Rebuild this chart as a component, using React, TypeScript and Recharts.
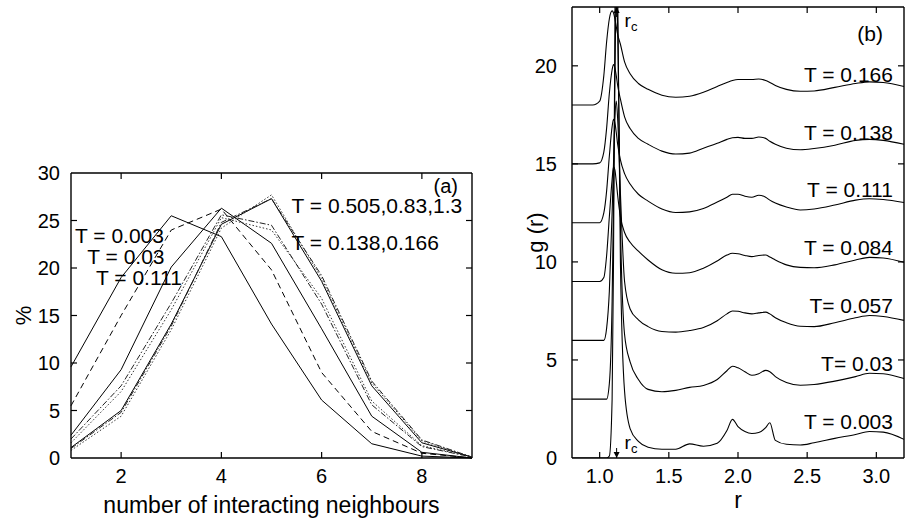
import React from 'react';
import { LineChart, Line, XAxis, YAxis, ReferenceDot, ReferenceLine, Label } from 'recharts';

const FONT = '"Liberation Sans", Arial, Helvetica, sans-serif';

// (a) share of particles (%) vs number of interacting neighbours
const NEIGHBOURS = [1, 2, 3, 4, 5, 6, 7, 8, 9];
const PCT_T0003 = [9.6, 19.0, 25.5, 23.3, 14.1, 6.1, 1.5, 0.2, 0.0];
const PCT_T003 = [5.5, 15.0, 24.0, 26.2, 19.8, 9.0, 2.8, 0.5, 0.0];
const PCT_T0111 = [2.4, 9.3, 20.1, 26.3, 22.6, 13.6, 4.4, 0.6, 0.0];
const PCT_T0138 = [2.0, 7.6, 16.3, 25.6, 24.5, 16.2, 5.6, 1.2, 0.1];
const PCT_T0166 = [1.6, 7.0, 15.6, 25.3, 24.0, 16.8, 6.0, 1.3, 0.1];
const PCT_T0505 = [1.1, 5.0, 14.1, 24.6, 27.3, 18.6, 7.6, 1.6, 0.1];
const PCT_T083 = [0.8, 4.4, 13.5, 24.2, 27.7, 18.9, 7.9, 1.8, 0.1];
const PCT_T13 = [1.0, 4.8, 13.9, 24.8, 27.3, 19.2, 8.1, 1.9, 0.1];
const N_TICKS = [2, 4, 6, 8];
const PCT_TICKS = [0, 5, 10, 15, 20, 25, 30];

// (b) g(r), curves already shifted by 0, 3, 6, ... 18
const R = [0.8, 0.95, 1.0, 1.03, 1.05, 1.07, 1.09, 1.1, 1.11, 1.12, 1.13, 1.15, 1.18, 1.22, 1.28, 1.35, 1.45, 1.55, 1.65, 1.75,
  1.85, 1.92, 1.96, 2.0, 2.05, 2.1, 2.15, 2.2, 2.23, 2.27, 2.35, 2.45, 2.55, 2.7, 2.85, 2.95, 3.05, 3.2];
const G_T0166 = [18, 18, 18.2, 19.5, 21.2, 22.4, 22.8, 22.7, 22.4, 22.0, 21.6, 21.1, 20.2, 19.6, 19.1, 18.8, 18.5, 18.4, 18.45, 18.65,
  18.95, 19.15, 19.25, 19.3, 19.3, 19.3, 19.33, 19.25, 19.15, 19.0, 18.8, 18.7, 18.72, 18.9, 19.1, 19.18, 19.15, 18.95];
const G_T0138 = [15, 15, 15.05, 15.6, 16.8, 18.6, 19.8, 20.07, 19.9, 19.5, 19.0, 18.3, 17.4, 16.8, 16.3, 16.0, 15.65, 15.5, 15.55, 15.8,
  16.05, 16.25, 16.33, 16.35, 16.3, 16.3, 16.37, 16.3, 16.15, 16.0, 15.8, 15.72, 15.78, 15.95, 16.2, 16.25, 16.2, 16.0];
const G_T0111 = [12, 12, 12.0, 12.5, 13.6, 15.4, 16.9, 17.27, 17.1, 16.6, 16.0, 15.2, 14.5, 13.97, 13.45, 13.1, 12.7, 12.52, 12.55, 12.72,
  13.05, 13.3, 13.45, 13.45, 13.35, 13.3, 13.4, 13.3, 13.15, 13.0, 12.8, 12.65, 12.7, 12.9, 13.15, 13.22, 13.18, 13.03];
const G_T0084 = [9, 9, 9.0, 9.2, 10.3, 12.3, 14.2, 14.85, 14.7, 14.1, 13.4, 12.3, 11.5, 11.0, 10.55, 10.1, 9.6, 9.42, 9.45, 9.68,
  10.05, 10.35, 10.44, 10.42, 10.33, 10.27, 10.33, 10.35, 10.25, 10.1, 9.85, 9.72, 9.7, 9.85, 10.1, 10.23, 10.2, 9.98];
const G_T0057 = [6, 6, 6.0, 6.0, 6.6, 8.5, 12.5, 15.0, 17.3, 18.2, 17.3, 13.5, 9.0, 7.6, 7.05, 6.7, 6.45, 6.42, 6.5, 6.65,
  7.0, 7.35, 7.5, 7.48, 7.4, 7.35, 7.4, 7.44, 7.35, 7.15, 6.9, 6.72, 6.7, 6.9, 7.15, 7.27, 7.22, 7.02];
const G_T003 = [3, 3, 3, 3, 3.0, 3.8, 8.0, 13.0, 19.0, 24.0, 22.0, 12.0, 6.3, 4.9, 4.0, 3.5, 3.38, 3.45, 3.6, 3.7,
  4.0, 4.45, 4.68, 4.6, 4.4, 4.22, 4.3, 4.47, 4.4, 4.15, 3.85, 3.71, 3.75, 3.92, 4.15, 4.32, 4.3, 4.05];
const G_T0003 = [0, 0, 0, 0, 0, 0.1, 3.0, 10.0, 22.0, 30.0, 24.0, 10.0, 3.4, 1.5, 0.85, 0.55, 0.45, 0.45, 0.72, 0.6,
  0.75, 1.4, 1.97, 1.6, 1.35, 1.25, 1.3, 1.55, 1.8, 0.9, 0.7, 0.66, 0.78, 1.0, 1.2, 1.35, 1.32, 0.95];
const R_TICKS = [1.0, 1.5, 2.0, 2.5, 3.0];
const G_TICKS = [0, 5, 10, 15, 20];
const R_C = 1.1225;

const SERIES_A = [
  { key: 't0003', values: PCT_T0003, dash: undefined, color: '#000' },
  { key: 't003', values: PCT_T003, dash: '6 4', color: '#000' },
  { key: 't0111', values: PCT_T0111, dash: undefined, color: '#000' },
  { key: 't0138', values: PCT_T0138, dash: '6 2 1.5 2', color: '#222' },
  { key: 't0166', values: PCT_T0166, dash: '1.5 2', color: '#333' },
  { key: 't0505', values: PCT_T0505, dash: undefined, color: '#000' },
  { key: 't083', values: PCT_T083, dash: '1.5 2', color: '#333' },
  { key: 't13', values: PCT_T13, dash: '6 2 1.5 2', color: '#222' },
];

const SERIES_B = [
  { key: 'g0166', values: G_T0166 },
  { key: 'g0138', values: G_T0138 },
  { key: 'g0111', values: G_T0111 },
  { key: 'g0084', values: G_T0084 },
  { key: 'g0057', values: G_T0057 },
  { key: 'g003', values: G_T003 },
  { key: 'g0003', values: G_T0003 },
];

const rowsA = NEIGHBOURS.map((n, i) => {
  const row: Record<string, number> = { n };
  SERIES_A.forEach((s) => (row[s.key] = s.values[i]));
  return row;
});

const rowsB = R.map((r, i) => {
  const row: Record<string, number> = { r };
  SERIES_B.forEach((s) => (row[s.key] = s.values[i]));
  return row;
});

const tickStyle = { fontSize: 20, fill: '#000', fontFamily: FONT };
const axisLine = { stroke: '#000', strokeWidth: 1.4 };
const TICK_LEN = 6;

const xTitle = (text: string, dy: number) => (props: any) => {
  const vb = props.viewBox || { x: 0, y: 0, width: 0 };
  return (
    <text x={vb.x + vb.width / 2} y={vb.y + dy} textAnchor="middle" fontSize={23} fontFamily={FONT} fill="#000">
      {text}
    </text>
  );
};

const yTitle = (text: string, cx: number) => (props: any) => {
  const vb = props.viewBox || { x: 0, y: 0, height: 0 };
  const x = vb.x + cx;
  const y = vb.y + vb.height / 2;
  return (
    <text x={x} y={y} transform={`rotate(-90, ${x}, ${y})`} textAnchor="middle" dominantBaseline="central"
      fontSize={22} fontFamily={FONT} fill="#000">
      {text}
    </text>
  );
};

// inward tick marks on both ends of a full-height / full-width reference line
const xTickShape = (p: any) => {
  const top = Math.min(p.y1, p.y2);
  const bot = Math.max(p.y1, p.y2);
  return (
    <g stroke="#000" strokeWidth={1.2}>
      <line x1={p.x1} x2={p.x1} y1={top} y2={top + TICK_LEN} />
      <line x1={p.x1} x2={p.x1} y1={bot} y2={bot - TICK_LEN} />
    </g>
  );
};

const yTickShape = (p: any) => {
  const left = Math.min(p.x1, p.x2);
  const right = Math.max(p.x1, p.x2);
  return (
    <g stroke="#000" strokeWidth={1.2}>
      <line x1={left} x2={left + TICK_LEN} y1={p.y1} y2={p.y1} />
      <line x1={right} x2={right - TICK_LEN} y1={p.y1} y2={p.y1} />
    </g>
  );
};

function frame(xTicks: number[], yTicks: number[], xMax: number, yMax: number) {
  return [
    ...xTicks.map((t) => <ReferenceLine key={'xt' + t} x={t} xAxisId="b" yAxisId="l" shape={xTickShape} />),
    ...yTicks.map((t) => <ReferenceLine key={'yt' + t} y={t} xAxisId="b" yAxisId="l" shape={yTickShape} />),
    <ReferenceLine key="top" y={yMax} xAxisId="b" yAxisId="l" stroke="#000" strokeWidth={1.4} />,
    <ReferenceLine key="right" x={xMax} xAxisId="b" yAxisId="l" stroke="#000" strokeWidth={1.4} />,
  ];
}

function note(key: string, x: number, y: number, text: string, anchor: 'start' | 'end', size = 21) {
  return (
    <ReferenceDot
      key={key}
      x={x}
      y={y}
      r={0}
      xAxisId="b"
      yAxisId="l"
      ifOverflow="visible"
      shape={(p: any) => (
        <text x={p.cx} y={p.cy} textAnchor={anchor} fontSize={size} fontFamily={FONT} fill="#000">
          {text}
        </text>
      )}
    />
  );
}

function rcMark(key: string, y: number, up: boolean) {
  return (
    <ReferenceDot
      key={key}
      x={R_C}
      y={y}
      r={0}
      xAxisId="b"
      yAxisId="l"
      ifOverflow="visible"
      shape={(p: any) => {
        const { cx, cy } = p;
        const d = up ? 1 : -1;
        return (
          <g>
            <line x1={cx} y1={cy} x2={cx} y2={cy + d * 10} stroke="#000" strokeWidth={1} />
            <path d={`M${cx - 3},${cy + d * 6} L${cx},${cy} L${cx + 3},${cy + d * 6} Z`} fill="#000" />
            <text x={cx + 8} y={up ? cy + 20 : cy - 9} fontSize={19} fontFamily={FONT} fill="#000">
              r
              <tspan fontSize={13} dy={4}>c</tspan>
            </text>
          </g>
        );
      }}
    />
  );
}

function PanelA() {
  return (
    <LineChart width={500} height={521} data={rowsA} margin={{ top: 173, right: 28, bottom: 0, left: 0 }}>
      <XAxis xAxisId="b" dataKey="n" type="number" domain={[1, 9]} ticks={N_TICKS} interval={0} height={63}
        tickSize={0} tickMargin={11} tick={tickStyle} axisLine={axisLine} tickLine={false}>
        <Label content={xTitle('number of interacting neighbours', 55)} />
      </XAxis>
      <YAxis yAxisId="l" type="number" domain={[0, 30]} ticks={PCT_TICKS} interval={0} width={71}
        tickSize={0} tickMargin={11} tick={tickStyle} axisLine={axisLine} tickLine={false}>
        <Label content={yTitle('%', 23)} />
      </YAxis>
      {frame(N_TICKS, PCT_TICKS.slice(1, -1), 9, 30)}
      {SERIES_A.map((s) => (
        <Line key={s.key} xAxisId="b" yAxisId="l" type="linear" dataKey={s.key} stroke={s.color} strokeWidth={1}
          strokeDasharray={s.dash} dot={false} isAnimationActive={false} />
      ))}
      {note('na', 8.72, 27.85, '(a)', 'end', 20)}
      {note('n1', 5.4, 25.75, 'T = 0.505,0.83,1.3', 'start')}
      {note('n2', 5.4, 21.9, 'T = 0.138,0.166', 'start')}
      {note('n3', 1.08, 22.6, 'T = 0.003', 'start')}
      {note('n4', 1.325, 20.4, 'T = 0.03', 'start')}
      {note('n5', 1.5, 18.2, 'T = 0.111', 'start')}
    </LineChart>
  );
}

function PanelB() {
  return (
    <LineChart width={408} height={521} data={rowsB} margin={{ top: 7, right: 4, bottom: 0, left: 0 }}>
      <XAxis xAxisId="b" dataKey="r" type="number" domain={[0.8, 3.2]} ticks={R_TICKS} interval={0} height={63}
        tickSize={0} tickMargin={11} tick={tickStyle} axisLine={axisLine} tickLine={false}
        tickFormatter={(v: number) => v.toFixed(1)}>
        <Label content={xTitle('r', 50)} />
      </XAxis>
      <YAxis yAxisId="l" type="number" domain={[0, 23]} allowDataOverflow ticks={G_TICKS} interval={0} width={72}
        tickSize={0} tickMargin={15} tick={tickStyle} axisLine={axisLine} tickLine={false}>
        <Label content={yTitle('g (r)', 35)} />
      </YAxis>
      {frame(R_TICKS, G_TICKS.slice(1), 3.2, 23)}
      {SERIES_B.map((s) => (
        <Line key={s.key} xAxisId="b" yAxisId="l" type="monotone" dataKey={s.key} stroke="#000" strokeWidth={1.1}
          dot={false} isAnimationActive={false} />
      ))}
      {note('nb', 3.048, 21.27, '(b)', 'end')}
      {note('m1', 3.12, 19.18, 'T = 0.166', 'end')}
      {note('m2', 3.12, 16.22, 'T = 0.138', 'end')}
      {note('m3', 3.12, 13.31, 'T = 0.111', 'end')}
      {note('m4', 3.12, 10.35, 'T = 0.084', 'end')}
      {note('m5', 3.12, 7.39, 'T= 0.057', 'end')}
      {note('m6', 3.12, 4.44, 'T= 0.03', 'end')}
      {note('m7', 3.12, 1.48, 'T = 0.003', 'end')}
      {rcMark('rcTop', 23, true)}
      {rcMark('rcBottom', 0, false)}
    </LineChart>
  );
}

export default function App() {
  return (
    <div style={{ position: 'absolute', left: 0, top: 0, width: 908, height: 521, background: '#fff', fontFamily: FONT }}>
      <div style={{ position: 'absolute', left: 0, top: 0 }}>
        <PanelA />
      </div>
      <div style={{ position: 'absolute', left: 500, top: 0 }}>
        <PanelB />
      </div>
    </div>
  );
}
